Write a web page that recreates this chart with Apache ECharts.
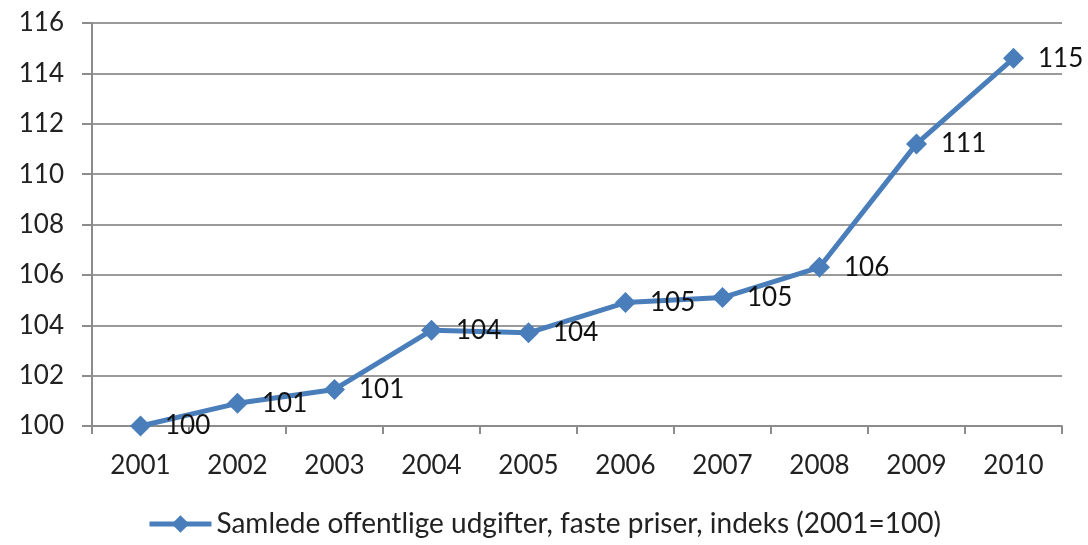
<!DOCTYPE html>
<html>
<head>
<meta charset="utf-8">
<script src="https://cdn.jsdelivr.net/npm/echarts@6/dist/echarts.min.js"></script>
<style>
html,body{margin:0;padding:0;background:#fff;}
#c{width:1088px;height:545px;}
</style>
</head>
<body>
<div id="c"></div>
<script>
const categories = ['2001','2002','2003','2004','2005','2006','2007','2008','2009','2010'];
const seriesName = 'Samlede offentlige udgifter, faste priser, indeks (2001=100)';
const values = [100.0, 100.9, 101.45, 103.8, 103.7, 104.9, 105.1, 106.3, 111.2, 114.6];
const yMin = 100, yMax = 116, yStep = 2;

const chart = echarts.init(document.getElementById('c'), null, {renderer: 'canvas'});
const font = 'Lato, "Open Sans", sans-serif';
chart.setOption({
  animation: false,
  backgroundColor: '#ffffff',
  grid: {left: 92, right: 26, top: 23, bottom: 119, containLabel: false},
  legend: {
    bottom: 2,
    left: 'center',
    itemWidth: 62,
    itemHeight: 22,
    itemGap: 4,
    lineStyle: {width: 5},
    textStyle: {fontFamily: font, fontSize: 28, color: '#222'},
    data: [seriesName]
  },
  xAxis: {
    type: 'category',
    data: categories,
    boundaryGap: true,
    axisLine: {lineStyle: {color: '#8c8c8c', width: 2}},
    axisTick: {show: true, alignWithLabel: false, length: 8, lineStyle: {color: '#8c8c8c', width: 2}},
    axisLabel: {fontFamily: font, fontSize: 26, color: '#222', margin: 27}
  },
  yAxis: {
    type: 'value',
    min: yMin, max: yMax, interval: yStep,
    axisLine: {show: true, lineStyle: {color: '#8c8c8c', width: 2}},
    axisTick: {show: true, length: 10, lineStyle: {color: '#8c8c8c', width: 2}},
    splitLine: {show: true, lineStyle: {color: '#9a9a9a', width: 2}},
    axisLabel: {fontFamily: font, fontSize: 26, color: '#222', margin: 28}
  },
  series: [{
    name: seriesName,
    type: 'line',
    data: values,
    symbol: 'diamond',
    symbolSize: 21,
    lineStyle: {color: '#4a7ebb', width: 5},
    itemStyle: {color: '#4a7ebb'},
    label: {
      show: true,
      position: 'right',
      distance: 14,
      fontFamily: font,
      fontSize: 26,
      color: '#111',
      formatter: p => Math.round(p.value)
    }
  }]
});
</script>
</body>
</html>
